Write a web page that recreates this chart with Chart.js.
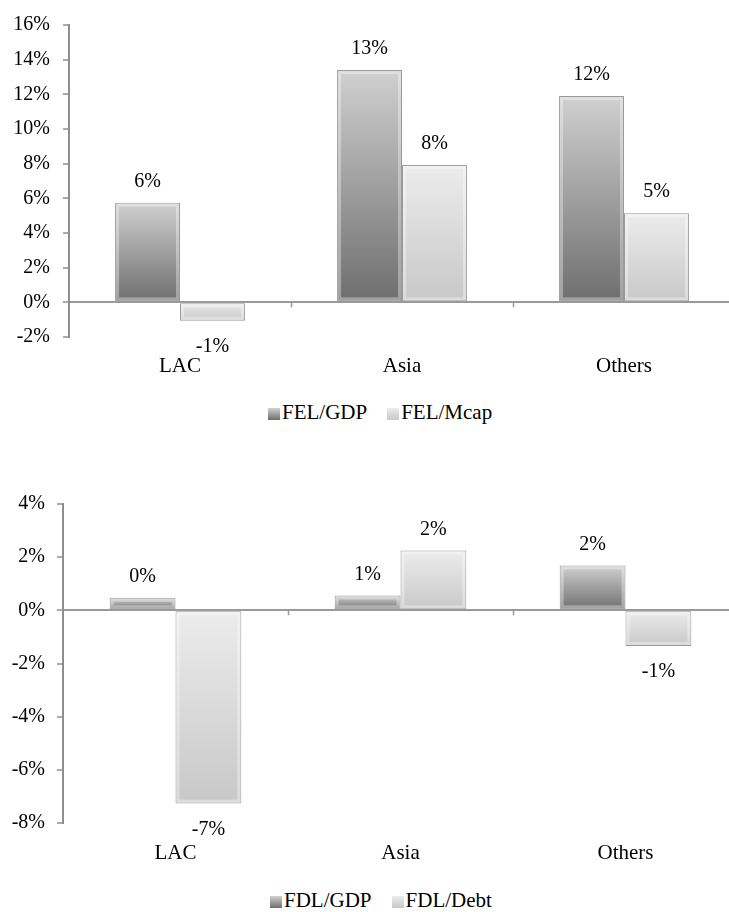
<!DOCTYPE html>
<html>
<head>
<meta charset="utf-8">
<script src="https://cdn.jsdelivr.net/npm/chart.js@4.4.1/dist/chart.umd.min.js"></script>
<style>
    html, body { margin: 0; padding: 0; background: #fff; overflow: hidden; }
    .chart-box { position: absolute; left: 0; }
    .legend {
        position: absolute; list-style: none; margin: 0; padding: 0; display: flex;
        font-family: "Liberation Serif", "Times New Roman", serif; font-size: 21px; color: #000;
    }
</style>
</head>
<body>
<div class="chart-box" style="top:0"><canvas id="fel-chart" width="740" height="380"></canvas></div>
<ul class="legend fel-legend" style="left:268px; top:400px"></ul>
<div class="chart-box" style="top:480px"><canvas id="fdl-chart" width="740" height="400"></canvas></div>
<ul class="legend fdl-legend" style="left:270px; top:888px"></ul>
<script>
// data (percent)
const regions = ['LAC', 'Asia', 'Others'];

const felGdp = [5.75, 13.4, 11.9];
const felMcap = [-1.06, 7.93, 5.14];
const felAxis = {min: -2, max: 16, step: 2};

const fdlGdp = [0.47, 0.56, 1.69];
const fdlDebt = [-7.27, 2.25, -1.34];
const fdlAxis = {min: -8, max: 4, step: 2};

const darkShade = ['#d0d0d0', '#6e6e6e'];
const lightShade = ['#ececec', '#c8c8c8'];

Chart.defaults.font.family = '"Liberation Serif", "Times New Roman", serif';
Chart.defaults.font.size = 20;
Chart.defaults.color = '#000';

function barGradient(shade) {
    return (context) => {
        const chart = context.chart;
        const y = chart.scales.y;
        if (!chart.chartArea || !y || context.type !== 'data') {
            return shade[1];
        }
        const a = y.getPixelForValue(context.raw);
        const b = y.getPixelForValue(0);
        const g = chart.ctx.createLinearGradient(0, Math.min(a, b), 0, Math.max(a, b));
        g.addColorStop(0, shade[0]);
        g.addColorStop(1, shade[1]);
        return g;
    };
}

// light inner rim, like the bevelled office bars
const bevelPlugin = {
    id: 'bevel',
    afterDatasetsDraw(chart) {
        const ctx = chart.ctx;
        chart.data.datasets.forEach((ds, i) => {
            chart.getDatasetMeta(i).data.forEach(bar => {
                const left = bar.x - bar.width / 2;
                const top = Math.min(bar.y, bar.base);
                const h = Math.abs(bar.base - bar.y);
                ctx.save();
                ctx.strokeStyle = 'rgba(255,255,255,0.35)';
                ctx.lineWidth = 3;
                ctx.strokeRect(left + 2.5, top + 2.5, bar.width - 5, h - 5);
                ctx.restore();
            });
        });
    }
};

const valueLabels = {
    id: 'valueLabels',
    afterDatasetsDraw(chart) {
        const ctx = chart.ctx;
        ctx.save();
        ctx.font = '20px "Liberation Serif", serif';
        ctx.fillStyle = '#000';
        ctx.textAlign = 'center';
        ctx.textBaseline = 'middle';
        chart.data.datasets.forEach((ds, i) => {
            chart.getDatasetMeta(i).data.forEach((bar, j) => {
                const v = ds.data[j];
                const y = v >= 0 ? bar.y - 21 : bar.y + 26;
                ctx.fillText(Math.round(v) + '%', bar.x, y);
            });
        });
        ctx.restore();
    }
};

// small marks between categories on the zero line
const categoryTicks = {
    id: 'categoryTicks',
    afterDraw(chart) {
        const ctx = chart.ctx;
        const x = chart.scales.x;
        const zero = chart.scales.y.getPixelForValue(0);
        ctx.save();
        ctx.strokeStyle = '#999';
        ctx.lineWidth = 1.5;
        for (let i = 1; i < regions.length; i++) {
            const px = Math.round(x.getPixelForValue(i - 0.5)) + 0.5;
            ctx.beginPath();
            ctx.moveTo(px, zero);
            ctx.lineTo(px, zero + 5);
            ctx.stroke();
        }
        ctx.restore();
    }
};

const htmlLegend = {
    id: 'htmlLegend',
    afterUpdate(chart, args, options) {
        const ul = document.querySelector(options.container);
        while (ul.firstChild) {
            ul.firstChild.remove();
        }
        chart.data.datasets.forEach((ds, i) => {
            const li = document.createElement('li');
            li.style.display = 'flex';
            li.style.alignItems = 'center';
            li.style.marginLeft = i === 0 ? '0' : options.gap + 'px';

            const box = document.createElement('span');
            box.style.display = 'inline-block';
            box.style.width = '12px';
            box.style.height = '12px';
            box.style.marginRight = '2px';
            box.style.marginTop = '2px';
            box.style.background = `linear-gradient(${ds.shade[0]}, ${ds.shade[1]})`;

            const text = document.createElement('span');
            text.textContent = ds.label;

            li.appendChild(box);
            li.appendChild(text);
            ul.appendChild(li);
        });
    }
};

function makeChart(canvasId, labels, series, axis, geo) {
    return new Chart(document.getElementById(canvasId), {
        type: 'bar',
        data: {
            labels: regions,
            datasets: series.map((values, i) => ({
                label: labels[i],
                data: values,
                shade: i === 0 ? darkShade : lightShade,
                backgroundColor: barGradient(i === 0 ? darkShade : lightShade),
                borderColor: '#9a9a9a',
                borderWidth: 1,
                borderSkipped: false,
                barPercentage: 1,
                categoryPercentage: 0.585,
            }))
        },
        options: {
            responsive: false,
            animation: false,
            layout: {padding: {top: geo.top, right: geo.right, left: 0, bottom: 0}},
            plugins: {
                legend: {display: false},
                tooltip: {enabled: false},
                htmlLegend: {container: geo.legend, gap: geo.gap},
            },
            scales: {
                x: {
                    grid: {display: false},
                    border: {display: false},
                    ticks: {padding: geo.labelPad, font: {size: 21}},
                    afterFit(scale) { scale.height = geo.xHeight; },
                },
                y: {
                    min: axis.min,
                    max: axis.max,
                    ticks: {
                        stepSize: axis.step,
                        padding: geo.tickPad,
                        callback: v => v + '%',
                    },
                    grid: {
                        drawOnChartArea: true,
                        color: ctx => ctx.tick && ctx.tick.value === 0 ? '#9a9a9a' : 'rgba(0,0,0,0)',
                        lineWidth: 2,
                        tickLength: 6,
                        tickColor: '#8e8e8e',
                        tickWidth: 1.5,
                    },
                    border: {color: '#8e8e8e', width: 2},
                    afterFit(scale) { scale.width = geo.yWidth; },
                }
            }
        },
        plugins: [bevelPlugin, valueLabels, categoryTicks, htmlLegend]
    });
}

makeChart('fel-chart', ['FEL/GDP', 'FEL/Mcap'], [felGdp, felMcap], felAxis,
    {top: 15, right: 5, xHeight: 43, labelPad: 9, yWidth: 69, tickPad: 13, legend: '.fel-legend', gap: 20});

makeChart('fdl-chart', ['FDL/GDP', 'FDL/Debt'], [fdlGdp, fdlDebt], fdlAxis,
    {top: 22, right: 2, xHeight: 57, labelPad: 10, yWidth: 63, tickPad: 12, legend: '.fdl-legend', gap: 20});
</script>
</body>
</html>
